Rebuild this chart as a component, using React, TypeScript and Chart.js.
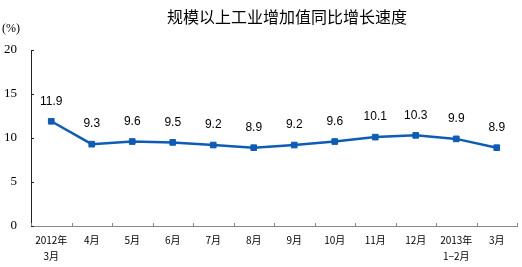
import React, { useEffect, useRef } from "react";
import { Chart, registerables } from "chart.js";

Chart.register(...registerables);

const categories: (string | string[])[] = [
  ["2012年", "3月"], "4月", "5月", "6月", "7月", "8月", "9月", "10月", "11月", "12月", ["2013年", "1−2月"], "3月",
];
const growthValues = [11.9, 9.3, 9.6, 9.5, 9.2, 8.9, 9.2, 9.6, 10.1, 10.3, 9.9, 8.9];
const yTicks = [0, 5, 10, 15, 20];
const titleText = "规模以上工业增加值同比增长速度";
const unitText = "(%)";

const LINE_COLOR = "#0d5cb6";

const decorPlugin = {
  id: "decor",
  afterDraw(chart: any) {
    const { ctx, chartArea, scales } = chart;
    const x = scales.x;
    const y = scales.y;
    ctx.save();
    // title
    ctx.fillStyle = "#000";
    ctx.font = '16px "Noto Sans CJK SC"';
    ctx.textAlign = "center";
    ctx.textBaseline = "middle";
    ctx.fillText(titleText, 287, 17);
    // unit
    ctx.font = '12px "Liberation Serif"';
    ctx.textAlign = "left";
    ctx.fillText(unitText, 2, 29);
    // y inner ticks
    ctx.strokeStyle = "#222";
    ctx.lineWidth = 1;
    yTicks.forEach((v) => {
      const py = Math.round(y.getPixelForValue(v)) + 0.5;
      ctx.beginPath();
      ctx.moveTo(chartArea.left, py);
      ctx.lineTo(chartArea.left + 3, py);
      ctx.stroke();
    });
    // x inner ticks at boundaries
    ctx.strokeStyle = "#888";
    for (let i = 0; i <= categories.length; i++) {
      const px = Math.round(x.getPixelForValue(i) - (x.getPixelForValue(1) - x.getPixelForValue(0)) / 2) + 0.5;
      ctx.beginPath();
      ctx.moveTo(px, chartArea.bottom);
      ctx.lineTo(px, chartArea.bottom - 3);
      ctx.stroke();
    }
    // data labels
    const meta = chart.getDatasetMeta(0);
    ctx.fillStyle = "#000";
    ctx.font = '12px "Liberation Sans"';
    ctx.textAlign = "center";
    ctx.textBaseline = "middle";
    meta.data.forEach((pt: any, i: number) => {
      ctx.fillText(growthValues[i].toFixed(1), pt.x, pt.y - 20);
    });
    ctx.restore();
  },
};

export default function App() {
  const ref = useRef<HTMLCanvasElement | null>(null);
  useEffect(() => {
    document.body.style.margin = "0";
    const chart = new Chart(ref.current as HTMLCanvasElement, {
      type: "line",
      data: {
        labels: categories,
        datasets: [
          {
            data: growthValues,
            borderColor: LINE_COLOR,
            backgroundColor: LINE_COLOR,
            borderWidth: 2.5,
            pointStyle: "rect",
            pointRadius: 4,
            pointBorderWidth: 1,
            tension: 0,
          },
        ],
      },
      options: {
        animation: false,
        responsive: false,
        layout: { padding: { top: 50, right: 4, left: 0, bottom: 0 } },
        plugins: { legend: { display: false }, tooltip: { enabled: false }, title: { display: false } },
        scales: {
          x: {
            offset: true,
            grid: { display: false, drawTicks: false },
            border: { display: true, color: "#888", width: 1 },
            ticks: {
              color: "#000",
              font: { size: 10, family: '"Noto Sans CJK SC"', lineHeight: 1.6 },
              padding: 6,
              maxRotation: 0,
              autoSkip: false,
            },
            afterFit(scale: any) {
              scale.height = 41;
            },
          },
          y: {
            min: 0,
            max: 20,
            grid: { display: false, drawTicks: false },
            border: { display: true, color: "#222", width: 1 },
            ticks: {
              stepSize: 5,
              color: "#000",
              font: { size: 13, family: '"Liberation Serif"' },
              padding: 14,
            },
            afterFit(scale: any) {
              scale.width = 31;
            },
          },
        },
      },
      plugins: [decorPlugin],
    });
    return () => chart.destroy();
  }, []);
  return (
    <div style={{ position: "absolute", left: 0, top: 0, width: 522, height: 267 }}>
      <canvas ref={ref} width={522} height={267} />
    </div>
  );
}
